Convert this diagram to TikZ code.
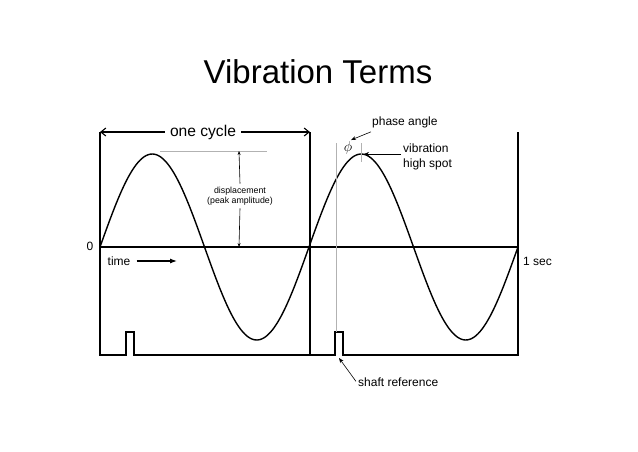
\documentclass[tikz,border=0pt]{standalone}
\usepackage{fontspec}
\setmainfont{Liberation Sans}
\usetikzlibrary{arrows.meta}
\begin{document}
\begin{tikzpicture}[x=1pt,y=-1pt,
    frame/.style={line width=1.1pt},
    wave/.style={line width=1.4pt},
    guide/.style={line width=0.4pt,gray!60},
    lbl/.style={font=\fontsize{12}{14}\selectfont,inner sep=0pt},
    pointer/.style={line width=0.6pt,-{Stealth[length=5pt,width=4pt]}}]
    \useasboundingbox (0,0) rectangle (638,451);
    \node[anchor=base,font=\fontsize{33}{38}\selectfont](title) at (318,83) {Vibration Terms};
    % frame and shaft pulses
    \draw[frame] (100,132)--(100,355)--(126,355)--(126,332)--(134,332)--(134,355)--(310,355);
    \draw[frame] (310,132)--(310,355)--(335,355)--(335,332)--(343,332)--(343,355)--(518,355)--(518,132);
    \draw[frame] (100,247)--(518,247);
    \draw[wave] plot[domain=100:518,samples=200,smooth] (\x,{247-93*sin((\x-100)/209*360)});
    % one cycle
    \node[font=\fontsize{15.6}{18}\selectfont,inner sep=5pt](cycle) at (203,132) {one cycle};
    \coordinate (cycL) at (100,132);
    \coordinate (cycR) at (310,132);
    \draw[line width=1.1pt,-{Straight Barb[length=5pt,width=8pt]}] (cycle.west)--(cycL);
    \draw[line width=1.1pt,-{Straight Barb[length=5pt,width=8pt]}] (cycle.east)--(cycR);
    % displacement
    \draw[guide] (160,151)--(267,151);
    \node[align=center,font=\fontsize{8.8}{10}\selectfont,inner sep=3pt](disp) at (240,196) {displacement\\(peak amplitude)};
    \coordinate (dispT) at (239,151);
    \coordinate (dispB) at (239,247);
    \draw[line width=0.6pt,-{Stealth[length=4pt,width=3pt]}] (disp.north)--(dispT);
    \draw[line width=0.6pt,-{Stealth[length=4pt,width=3pt]}] (disp.south)--(dispB);
    % axis labels
    \node[lbl](zero) at (90,246) {0};
    \node[lbl](time) at (119,261) {time};
    \coordinate (timeE) at (177,261);
    \draw[line width=1.1pt,-{Latex[length=7pt,width=5pt]}] ([xshift=6pt]time.east)--(timeE);
    \node[lbl,anchor=west](sec) at (523,261) {1 sec};
    % phase
    \draw[guide] (336,143)--(336,332);
    \draw[guide] (361,143)--(361,162);
    \node[inner sep=0pt,font=\fontsize{15}{16}\selectfont](phi) at (348,148) {$\phi$};
    \node[lbl,anchor=west](phase) at (372,122) {phase angle};
    \coordinate (phiT) at (351,140);
    \draw[pointer] ([shift={(-1pt,-4pt)}]phase.south west)--(phiT);
    \node[lbl,anchor=west,align=left,font=\fontsize{12}{15.5}\selectfont](spot) at (403,157) {vibration\\high spot};
    \coordinate (peak) at (364,154);
    \draw[pointer] (401,154)--(peak);
    % shaft
    \node[lbl,anchor=west](shaft) at (358,382) {shaft reference};
    \coordinate (pulse) at (339,358);
    \draw[pointer] ([shift={(-2pt,-4pt)}]shaft.north west)--(pulse);
\end{tikzpicture}
\end{document}
